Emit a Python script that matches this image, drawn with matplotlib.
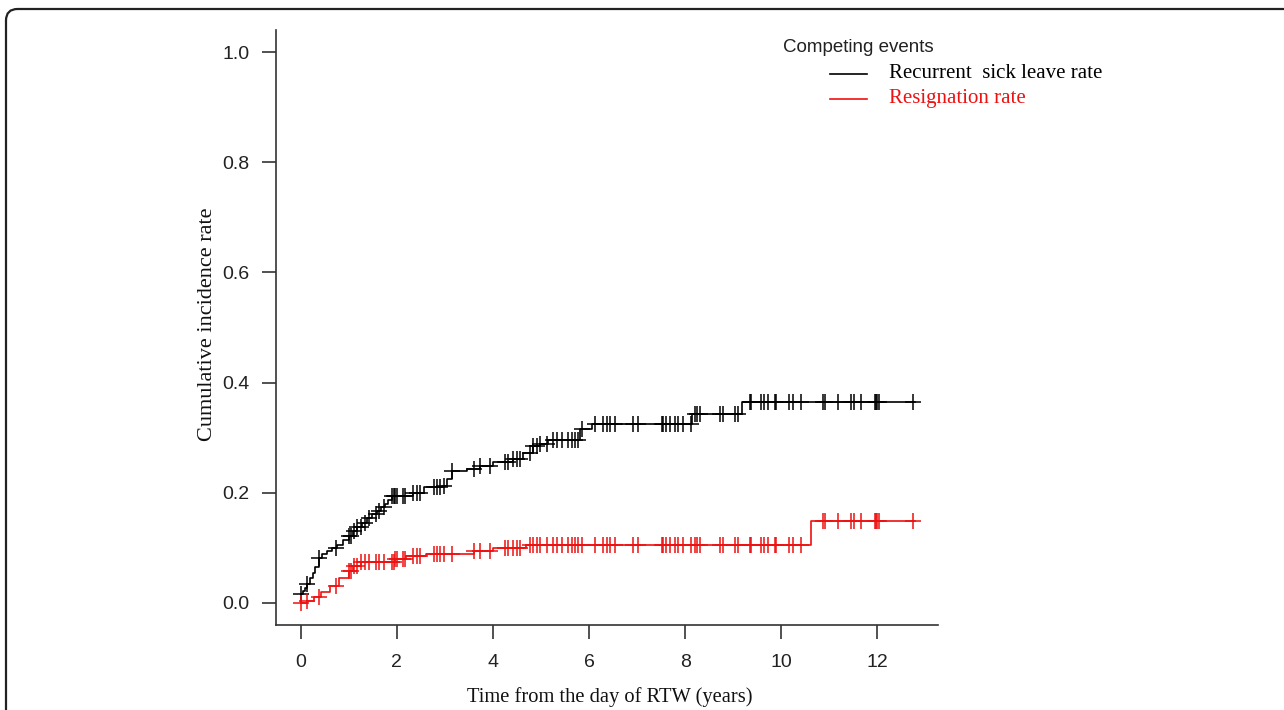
import numpy as np
import matplotlib.pyplot as plt
from matplotlib.patches import FancyBboxPatch

# Curvas de incidencia acumulada (tiempos de salto y valor tras el salto)
sick_t = [0, 0.05, 0.1, 0.14, 0.2, 0.25, 0.3, 0.38, 0.45, 0.55, 0.66, 0.76, 0.88,
          1.0, 1.1, 1.18, 1.28, 1.38, 1.48, 1.59, 1.68, 1.76, 1.83, 1.9, 2.35,
          2.56, 2.94, 3.05, 3.15, 3.46, 3.73, 4.0, 4.42, 4.63, 4.84, 4.98, 5.15,
          5.81, 6.06, 8.14, 9.18]
sick_v = [0.017, 0.022, 0.028, 0.034, 0.045, 0.055, 0.066, 0.082, 0.088, 0.094,
          0.100, 0.106, 0.114, 0.122, 0.130, 0.137, 0.146, 0.155, 0.161, 0.167,
          0.174, 0.180, 0.187, 0.195, 0.200, 0.210, 0.213, 0.225, 0.240, 0.243,
          0.249, 0.255, 0.262, 0.273, 0.285, 0.289, 0.296, 0.315, 0.325, 0.343,
          0.364]

resign_t = [0, 0.14, 0.28, 0.42, 0.62, 0.8, 1.0, 1.1, 1.25, 1.97, 2.2, 2.6,
            3.6, 4.0, 4.7, 10.62]
resign_v = [0.0, 0.004, 0.010, 0.019, 0.031, 0.046, 0.058, 0.067, 0.074, 0.080,
            0.085, 0.089, 0.094, 0.100, 0.106, 0.149]

t_end = 12.78

# Tiempos censurados (compartidos por ambas curvas)
censor_t = [0.0, 0.14, 0.38, 0.73, 1.0, 1.04, 1.11, 1.18, 1.25, 1.35, 1.42, 1.56,
            1.63, 1.73, 1.9, 1.94, 1.97, 2.01, 2.14, 2.18, 2.35, 2.42, 2.49,
            2.77, 2.84, 2.91, 2.98, 3.15, 3.6, 3.74, 3.94, 4.26, 4.32, 4.43,
            4.5, 4.57, 4.77, 4.84, 4.91, 4.98, 5.12, 5.26, 5.33, 5.43, 5.57,
            5.64, 5.71, 5.78, 5.85, 6.12, 6.3, 6.37, 6.44, 6.54, 6.92, 7.02,
            7.51, 7.54, 7.61, 7.68, 7.78, 7.85, 7.96, 8.13, 8.2, 8.24, 8.3,
            8.72, 8.79, 9.03, 9.1, 9.34, 9.38, 9.58, 9.65, 9.72, 9.86, 9.9,
            10.17, 10.24, 10.41, 10.86, 10.9, 11.18, 11.45, 11.52, 11.66,
            11.94, 11.97, 12.0, 12.04, 12.73]

legend_title = 'Competing events'
labels = ['Recurrent  sick leave rate', 'Resignation rate']
colors = ['black', '#ee1111']

sans = 'Liberation Sans'
serif = 'Liberation Serif'

W, H = 1284, 710
fig = plt.figure(figsize=(W / 100, H / 100), dpi=100)

# marco redondeado de la figura
frame = FancyBboxPatch((6 / W, -1.2 + (H - 9) / H), 1.2, 1.2,
                       boxstyle='round,pad=0,rounding_size=0.009',
                       transform=fig.transFigure, fill=False, edgecolor='#222222',
                       linewidth=1.6, mutation_aspect=W / H)
fig.patches.append(frame)

ax = fig.add_axes([276 / W, 1 - 625 / H, (938 - 276) / W, (625 - 30) / H])
ax.set_xlim(-0.51, 13.26)
ax.set_ylim(-0.04, 1.04)


def step_at(tt, vv, x):
    i = np.searchsorted(tt, x, side='right') - 1
    return vv[max(i, 0)]


for tt, vv, c in [(sick_t, sick_v, colors[0]), (resign_t, resign_v, colors[1])]:
    xs = list(tt) + [t_end]
    ys = list(vv) + [vv[-1]]
    ax.step(xs, ys, where='post', color=c, lw=1.2)
    cy = [step_at(tt, vv, x) for x in censor_t]
    ax.plot(censor_t, cy, ls='none', marker='+', ms=12, mew=1.1, color=c)

for s in ['top', 'right']:
    ax.spines[s].set_visible(False)
for s in ['left', 'bottom']:
    ax.spines[s].set_linewidth(1.2)
    ax.spines[s].set_color('#333333')

ax.set_xticks(np.arange(0, 13, 2))
ax.set_yticks(np.arange(0, 1.01, 0.2))
ax.set_yticklabels(['0.0', '0.2', '0.4', '0.6', '0.8', '1.0'])
ax.tick_params(length=10, width=1.2, color='#333333', labelsize=14, pad=9,
               labelcolor='#222222')
ax.tick_params(axis='x', pad=11)
for lab in ax.get_xticklabels() + ax.get_yticklabels():
    lab.set_fontfamily(sans)

fig.text(610 / W, 1 - 697 / H, 'Time from the day of RTW (years)', family=serif,
         fontsize=14.8, ha='center', va='center', color='#111111')
fig.text(207 / W, 1 - 324 / H, 'Cumulative incidence rate', family=serif,
         fontsize=16, ha='center', va='center', rotation=90, color='#111111')

# leyenda manual
fig.text(783 / W, 1 - 47 / H, legend_title, family=sans, fontsize=13.5,
         ha='left', va='center', color='#222222')
for i, (lab, c) in enumerate(zip(labels, colors)):
    y = 1 - (74 + 25 * i) / H
    fig.add_artist(plt.Line2D([830 / W, 867 / W], [y, y], color=c, lw=1.2,
                              transform=fig.transFigure))
    fig.text(889 / W, y, lab, family=serif, fontsize=15, ha='left',
             va='center', color=c)

fig.savefig('out.png', dpi=100)
